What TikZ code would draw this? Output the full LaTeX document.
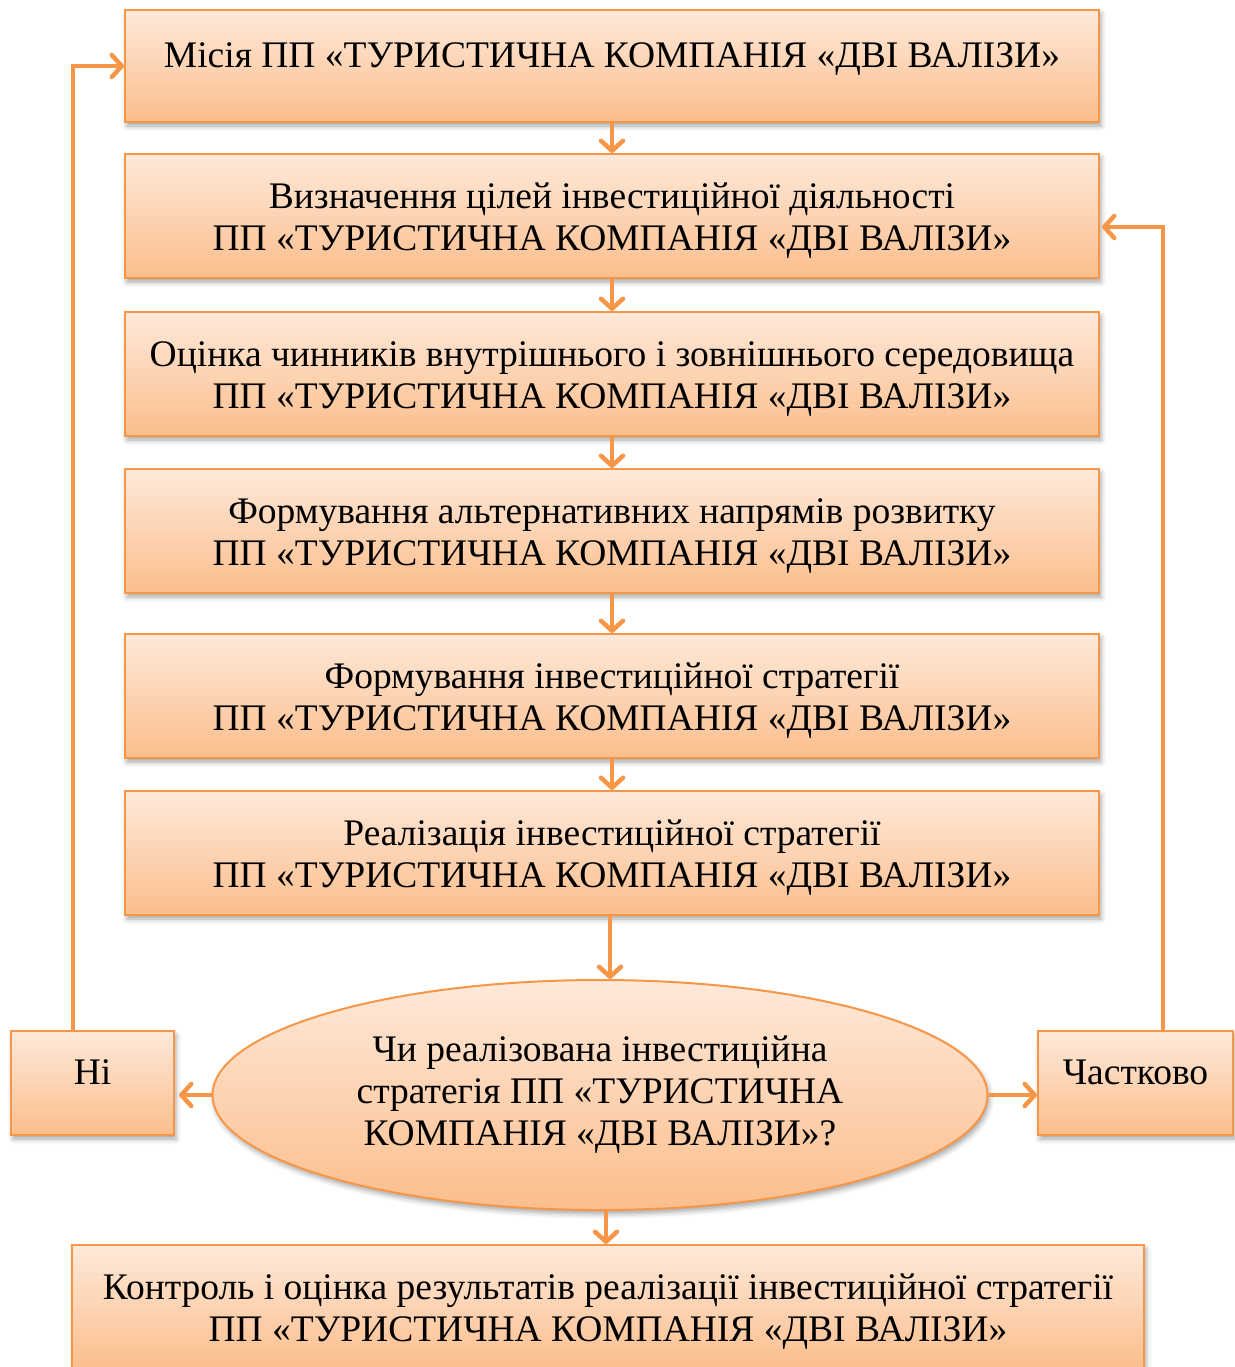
\documentclass[tikz,border=0pt]{standalone}
\usepackage{fontspec}
\setmainfont{Liberation Serif}
\usepackage{xcolor}
\usetikzlibrary{arrows.meta,shapes.geometric,shadows.blur}
\definecolor{peachline}{HTML}{F79646}
\definecolor{peachtop}{HTML}{FEE9DA}
\definecolor{peachbot}{HTML}{FBBE8C}

\begin{document}
\begin{tikzpicture}[
  x=0.5pt, y=-0.5pt,
  every node/.style={font=\fontsize{18.75}{21}\selectfont},
  softshadow/.style={blur shadow={shadow xshift=1pt, shadow yshift=-2pt,
      shadow blur radius=2.5pt, shadow opacity=35}},
  peachfill/.style={draw=peachline, line width=1pt, top color=peachtop,
      bottom color=peachbot, inner sep=0pt, align=center, softshadow},
  stagebox/.style={peachfill, minimum width=487pt, minimum height=62pt, text height=38.5pt},
  sidebox/.style={peachfill, minimum height=52pt},
  toptext/.style={text height=13pt, text depth=12pt},
  flow/.style={draw=peachline, line width=2.25pt,
      -{Straight Barb[length=5pt, width=11pt, round]}},
]
\useasboundingbox (0,0) rectangle (1235,1367);

%%% Main chain of stages %%%
\node[stagebox, toptext, minimum height=56pt] (mission) at (612,66)
  {Місія ПП «ТУРИСТИЧНА КОМПАНІЯ «ДВІ ВАЛІЗИ»};
\node[stagebox] (goals) at (612,216)
  {Визначення цілей інвестиційної діяльності\\ПП «ТУРИСТИЧНА КОМПАНІЯ «ДВІ ВАЛІЗИ»};
\node[stagebox] (factors) at (612,374)
  {Оцінка чинників внутрішнього і зовнішнього середовища\\ПП «ТУРИСТИЧНА КОМПАНІЯ «ДВІ ВАЛІЗИ»};
\node[stagebox] (altern) at (612,531)
  {Формування альтернативних напрямів розвитку\\ПП «ТУРИСТИЧНА КОМПАНІЯ «ДВІ ВАЛІЗИ»};
\node[stagebox] (strategy) at (612,696)
  {Формування інвестиційної стратегії\\ПП «ТУРИСТИЧНА КОМПАНІЯ «ДВІ ВАЛІЗИ»};
\node[stagebox] (realize) at (612,853)
  {Реалізація інвестиційної стратегії\\ПП «ТУРИСТИЧНА КОМПАНІЯ «ДВІ ВАЛІЗИ»};

% Decision ellipse and its outcomes
\node[peachfill, ellipse, minimum width=387.5pt, minimum height=115pt] (check) at (600,1095)
  {Чи реалізована інвестиційна\\стратегія ПП «ТУРИСТИЧНА\\КОМПАНІЯ «ДВІ ВАЛІЗИ»?};
\node[sidebox, toptext, minimum width=81.5pt] (no) at (92.5,1083) {Ні};
\node[sidebox, toptext, minimum width=97.5pt] (partly) at (1135.5,1083) {Частково};

% Final control stage (runs off the page)
\node[stagebox, minimum width=536pt] (control) at (608,1307)
  {Контроль і оцінка результатів реалізації інвестиційної стратегії\\ПП «ТУРИСТИЧНА КОМПАНІЯ «ДВІ ВАЛІЗИ»};

%%% Connectors %%%
\draw[flow] (mission) -- (goals);
\draw[flow] (goals) -- (factors);
\draw[flow] (factors) -- (altern);
\draw[flow] (altern) -- (strategy);
\draw[flow] (strategy) -- (realize);
\draw[flow] ([xshift=-1pt]realize.south) -- ([xshift=-1pt]realize.south |- check.north);
\draw[flow] ([xshift=3pt]check.south) -- ([xshift=3pt]check.south |- control.north);

% Outcomes
\draw[flow, shorten >=2pt] (check.west) -- (check.west -| no.east);
\draw[flow] (check.east) -- (check.east -| partly.west);

% Feedback loops
\draw[flow] ([xshift=-9.75pt]no.north) |- (mission.west);
\draw[flow, shorten >=1pt] ([xshift=13.75pt]partly.north) |- ([yshift=-5.5pt]goals.east);

\end{tikzpicture}
\end{document}
